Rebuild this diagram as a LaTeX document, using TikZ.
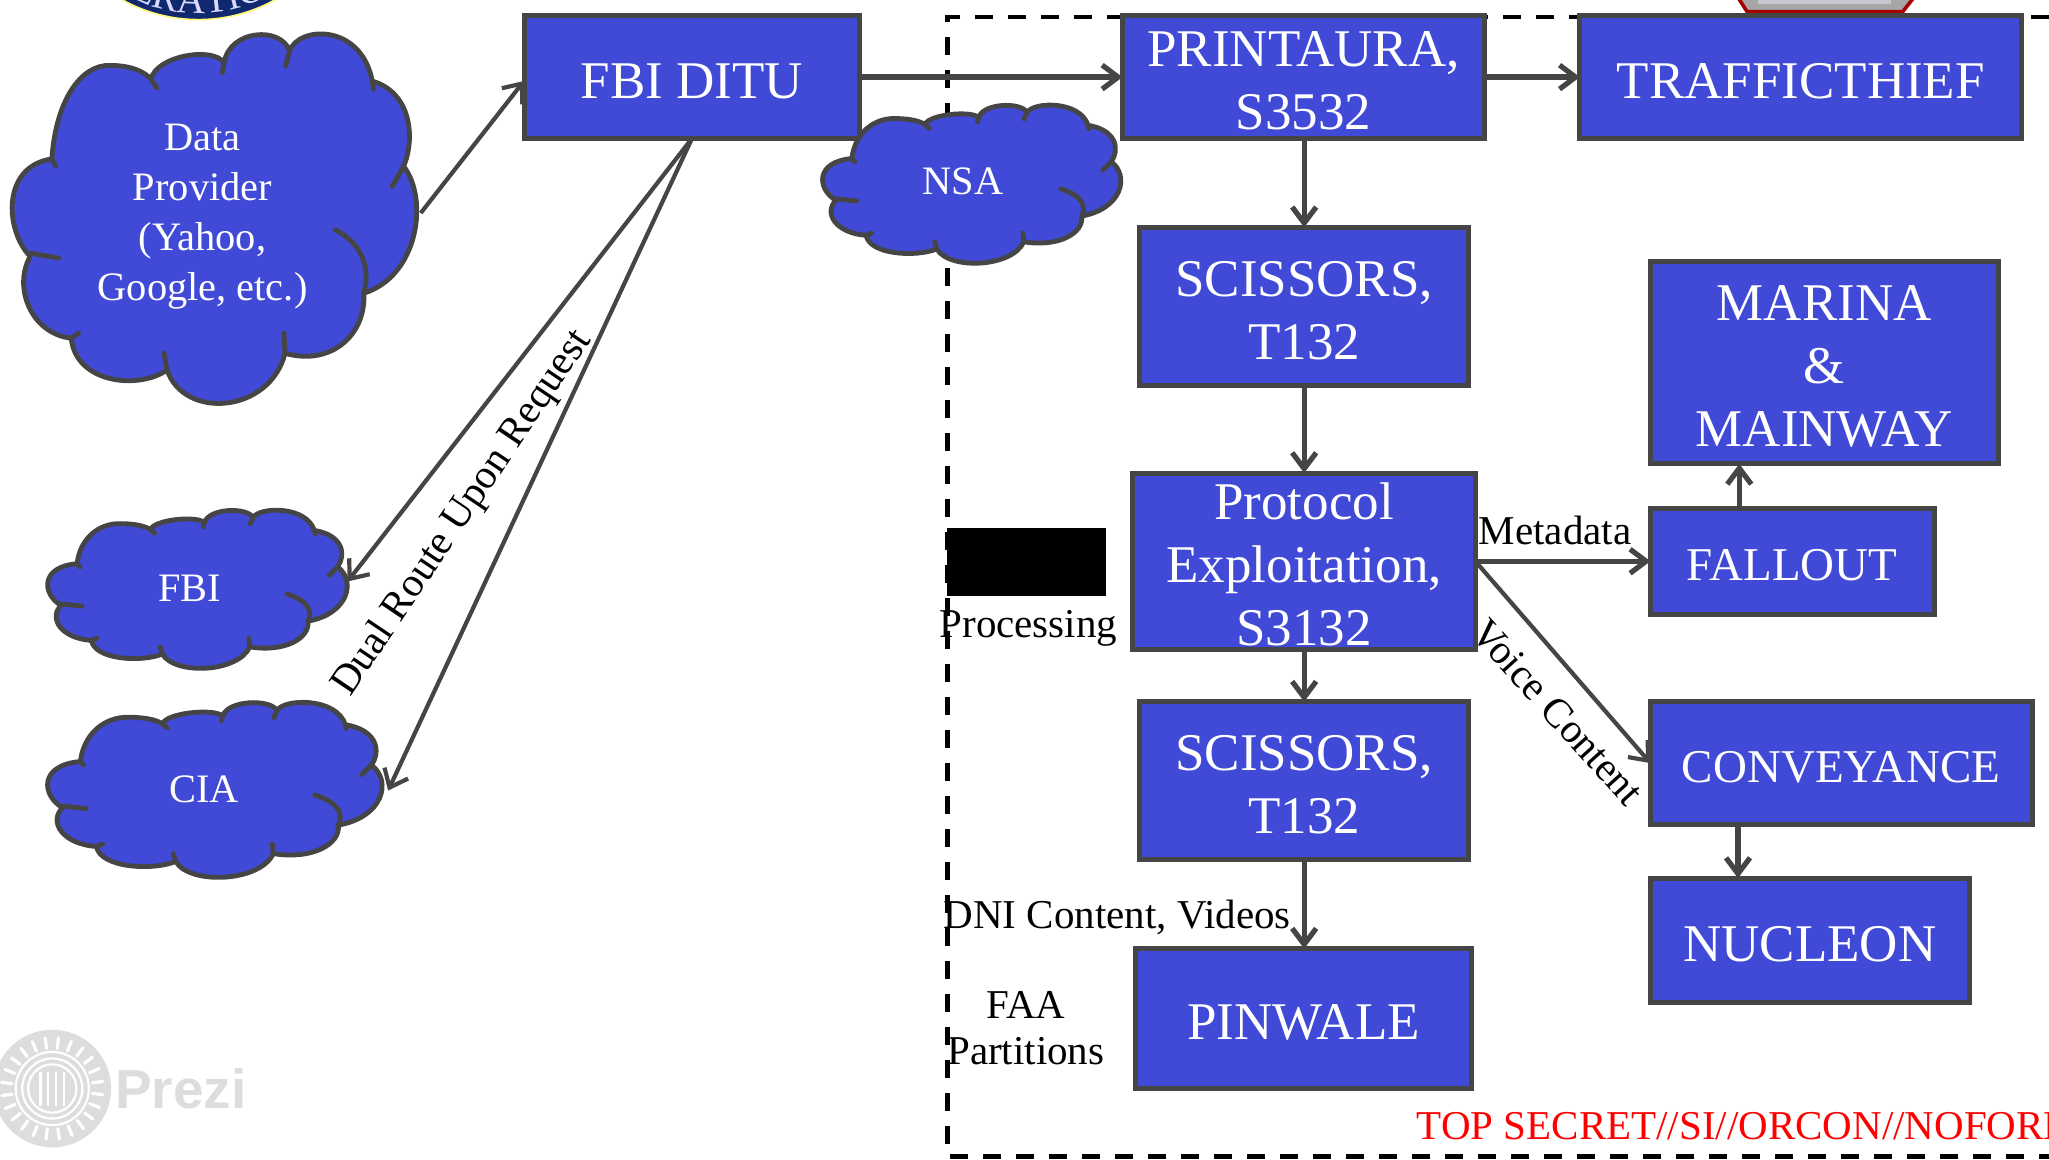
\documentclass[tikz,border=0pt]{standalone}
\usepackage{fontspec}
\setmainfont{Liberation Serif}
\newfontfamily\prezifont{Liberation Sans}
\usetikzlibrary{arrows.meta,decorations.text}
\definecolor{bluefill}{HTML}{404AD6}
\definecolor{edgegray}{HTML}{454545}
\definecolor{logogray}{HTML}{DDDDDD}
\definecolor{sealblue}{HTML}{10296E}
\tikzset{
  bxbase/.style={draw=edgegray,fill=bluefill,line width=2.5pt,inner sep=0pt,outer sep=0pt},
  bxlabel/.style={text=white,align=center,inner sep=0pt},
  big/.style={font=\fontsize{26.5}{31.5}\selectfont},
  mid/.style={font=\fontsize{23.5}{28}\selectfont},
  cloudtext/.style={text=white,align=center,inner sep=0pt,font=\fontsize{20.2}{25}\selectfont},
  lab/.style={text=black,inner sep=0pt,font=\fontsize{20.5}{24}\selectfont},
  conn/.style={draw=edgegray,line width=2.6pt,-{Straight Barb[length=8pt,width=12pt,line width=2.6pt]}},
  thinconn/.style={draw=edgegray,line width=2.1pt,-{Straight Barb[length=8pt,width=13pt,line width=2.1pt]}},
  cloudedge/.style={draw=edgegray,line width=2.4pt,line cap=round,line join=round},
}
\newcommand{\bxnode}[7]{%
  \node[bxbase,minimum width={(#4-#2)*0.6534pt},minimum height={(#5-#3)*0.6534pt},
    label={[bxlabel,#6,yshift=-2pt]center:{#7}}] (#1) at ({(#2+#4)/2},{(#3+#5)/2}) {};}
% cloud outline, drawn in the reference's own measure and fitted to a box
\newcommand{\cloudshape}[4]{%
\begin{scope}[shift={(#1,#2)},xscale={(#3-#1)/715},yscale={(#4-#2)/1115},shift={(-20,-100)}]
  \path[cloudedge,fill=bluefill] (50,770)
    .. controls (5,690) and (0,500) .. (88,478)
    .. controls (95,300) and (140,195) .. (190,198)
    .. controls (225,198) and (250,215) .. (262,240)
    .. controls (270,170) and (370,140) .. (390,190)
    .. controls (400,90) and (490,80) .. (505,155)
    .. controls (520,80) and (630,70) .. (650,245)
    .. controls (720,280) and (725,420) .. (705,500)
    .. controls (750,600) and (730,830) .. (635,880)
    .. controls (640,1000) and (580,1100) .. (497,1060)
    .. controls (470,1240) and (320,1260) .. (290,1110)
    .. controls (240,1170) and (130,1150) .. (122,1015)
    .. controls (50,1000) and (20,860) .. (50,770) -- cycle;
  \path[cloudedge] (50,760) -- (100,775);
  \path[cloudedge] (88,478) -- (95,500);
  \path[cloudedge] (262,240) -- (272,265);
  \path[cloudedge] (390,190) -- (387,220);
  \path[cloudedge] (505,155) -- (498,200);
  \path[cloudedge] (650,245) -- (652,270);
  \path[cloudedge] (705,500) -- (685,560);
  \path[cloudedge] (585,690) .. controls (640,740) and (645,820) .. (635,880);
  \path[cloudedge] (497,1060) -- (495,1000);
  \path[cloudedge] (290,1110) -- (285,1060);
  \path[cloudedge] (122,1015) -- (135,1000);
\end{scope}}
\begin{document}
\begin{tikzpicture}[x=0.6534pt,y=-0.6534pt]
\useasboundingbox (0,0) rectangle (1568,886.95);
\fill[white] (0,0) rectangle (1568,886.95);
\begin{scope}
\clip (0,0) rectangle (1568,886.95);
% seal fragment
\fill[sealblue,draw=yellow!55!white,line width=0.8pt] (152,-105) circle (120);
\path[decorate,decoration={text along path,text align=center,
   text={|\color{white!85!blue}\fontsize{20}{20}\selectfont|ERATIO}}]
   (92,-7) .. controls (112,6) and (132,10) .. (152,10) .. controls (172,10) and (192,6) .. (212,-7);
% red hexagon fragment
\path[fill=black!35!white,draw=red!65!black,line width=1.8pt] (1328,-5) -- (1337,9) -- (1456,9) -- (1467,-5) -- cycle;
\fill[blue!12!black!22!white] (1345,-2) rectangle (1447,3);
% dashed frame
\coordinate (frameTR) at (1568,13);
\coordinate (frameTL) at (725,13);
\coordinate (frameBL) at (725,885);
\coordinate (frameBR) at (1568,885);
\draw[black,line width=2.2pt,dash pattern=on 9pt off 7.5pt] (frameTR) -- (frameTL) -- (frameBL) -- (frameBR);
% prezi logo
\fill[logogray] (40,833) circle (45);
\foreach \a in {0,15,...,345} {\draw[white,line width=1.6pt,line cap=round] ({40+31*cos(\a+7)},{833+31*sin(\a+7)}) -- ({40+39*cos(\a+7)},{833+39*sin(\a+7)});}
\draw[white,line width=1.1pt] (40,833) circle (28);
\draw[white,line width=1.1pt] (40,833) circle (23);
\draw[white,line width=1.1pt] (40,833) circle (18.5);
\foreach \d in {-9,-3,3,9} {\draw[white,line width=1.1pt] ({40+\d},820) -- ({40+\d},846);}
\node[text=logogray,inner sep=0pt,font=\prezifont\bfseries\fontsize{27.5}{27.5}\selectfont] (prezi) at (138.5,833) {Prezi};
% boxes
\bxnode{ditu}{401}{12}{658}{106}{big}{FBI DITU}
\bxnode{printaura}{859}{12}{1136}{106}{big}{PRINTAURA,\\S3532}
\bxnode{traffic}{1209}{12}{1547}{106}{big}{TRAFFICTHIEF}
\bxnode{sciA}{872}{174}{1124}{295}{big}{SCISSORS,\\T132}
\bxnode{marina}{1263}{200}{1529}{355}{big}{MARINA\\\&\\MAINWAY}
\node[bxbase,minimum width={262*0.6534pt},minimum height={135*0.6534pt},
  label={[bxlabel,big,yshift=-1.5pt]center:{Protocol\\Exploitation,\\S3132}}] (proto) at (998,429.5) {};
\bxnode{fallout}{1263}{389}{1480}{470}{mid}{FALLOUT}
\bxnode{sciB}{872}{537}{1124}{658}{big}{SCISSORS,\\T132}
\bxnode{convey}{1263}{537}{1555}{631}{mid}{CONVEYANCE}
\bxnode{nucleon}{1263}{672}{1507}{767}{big}{NUCLEON}
\bxnode{pinwale}{869}{726}{1126}{833}{big}{PINWALE}
\node[fill=black,inner sep=0pt,outer sep=0pt,minimum width={121*0.6534pt},minimum height={52*0.6534pt}] (blackbar) at (785.5,430) {};
% clouds
\cloudshape{10}{25}{322}{310}
\cloudshape{37}{390}{268}{512}
\cloudshape{37}{537}{295}{672}
\cloudshape{630}{80}{860}{202}
\coordinate (dataE) at (322,163);
\coordinate (fbiE) at (266,445);
\coordinate (ciaE) at (297,605);
\node[cloudtext] (data) at (155,166) {Data\\Provider\\(Yahoo,\\Google, etc.)};
\node[cloudtext] (fbi) at (145,450) {FBI};
\node[cloudtext] (cia) at (156,604) {CIA};
\node[cloudtext] (nsa) at (737,139) {NSA};
% connectors
\coordinate (dituIn) at (401,62);
\draw[thinconn] (dataE) -- (dituIn);
\draw[conn] (ditu.east) -- (ditu.east -| printaura.west);
\draw[conn] (printaura.east) -- (traffic.west);
\draw[conn] (printaura.south -| sciA.north) -- (sciA.north);
\draw[conn] (sciA.south) -- (proto.north -| sciA.south);
\draw[conn] (proto.south -| sciB.north) -- (sciB.north);
\draw[conn] (sciB.south) -- (pinwale.north -| sciB.south);
\draw[conn] (proto.east) -- (proto.east -| fallout.west);
\coordinate (falloutUp) at (1331,389);
\coordinate (marinaIn) at (1331,355);
\draw[conn] (falloutUp) -- (marinaIn);
\draw[thinconn] (proto.east) -- (convey.west);
\coordinate (conveyOut) at (1330,631);
\coordinate (nucleonIn) at (1330,672);
\draw[conn] (conveyOut) -- (nucleonIn);
\draw[thinconn] (ditu.south) -- (fbiE);
\draw[thinconn] (ditu.south) -- (ciaE);
% labels
\node[lab,rotate=56] (dual) at (354,393) {Dual Route Upon Request};
\node[lab] (meta) at (1190,406) {Metadata};
\node[lab,rotate=-48] (voice) at (1192,545) {Voice Content};
\node[lab] (proc) at (787,481) {Processing};
\node[lab] (dni) at (855,702) {DNI Content, Videos};
\node[lab] (faa) at (785,769) {FAA};
\node[lab] (part) at (785,804) {Partitions};
\node[lab,anchor=west,text=red] (secret) at (1084,862) {TOP SECRET//SI//ORCON//NOFORN};
\end{scope}
\end{tikzpicture}
\end{document}
